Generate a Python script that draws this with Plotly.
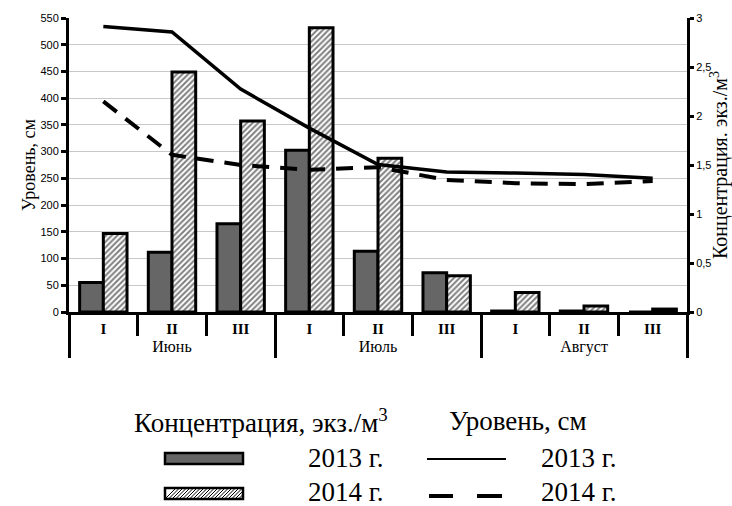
import plotly.graph_objects as go

months = ["Июнь"] * 3 + ["Июль"] * 3 + ["Август"] * 3
decades = ["I", "II", "III"] * 3
conc_2013 = [0.30, 0.61, 0.90, 1.65, 0.62, 0.40, 0.01, 0.01, 0.0]
conc_2014 = [0.80, 2.45, 1.95, 2.90, 1.57, 0.37, 0.20, 0.06, 0.03]
level_2013 = [534, 524, 417, 344, 276, 262, 260, 257, 250]
level_2014 = [394, 294, 275, 266, 271, 247, 241, 239, 245]
level_ticks = list(range(0, 551, 50))
conc_ticks = [0, 0.5, 1, 1.5, 2, 2.5, 3]

W, H = 732, 506
ML, MR, MT, MB = 69, 45, 18, 194
PW, PH = W - ML - MR, H - MT - MB


def px(x):
    return (x - ML) / PW


def py(y):
    return (H - MB - y) / PH


inner = [f"<span style='font-size:15px'><b>{d}</b></span>" for d in decades]
x_cat = [months, inner]

serif = "Liberation Serif, Times New Roman, serif"
sans = "Liberation Sans, Arial, sans-serif"

fig = go.Figure()
fig.add_trace(go.Bar(
    x=x_cat, y=conc_2013, name="2013 г.", yaxis="y",
    marker=dict(color="#666666", line=dict(color="black", width=3)),
    showlegend=False,
))
fig.add_trace(go.Bar(
    x=x_cat, y=conc_2014, name="2014 г.", yaxis="y",
    marker=dict(color="white", line=dict(color="black", width=3),
                pattern=dict(shape="/", fgcolor="black", bgcolor="white",
                             size=4, solidity=0.5)),
    showlegend=False,
))
fig.add_trace(go.Scatter(
    x=x_cat, y=level_2013, yaxis="y2", mode="lines",
    line=dict(color="black", width=3.5), showlegend=False,
))
fig.add_trace(go.Scatter(
    x=x_cat, y=level_2014, yaxis="y2", mode="lines",
    line=dict(color="black", width=4, dash="17px,11px"), showlegend=False,
))

fig.update_layout(
    width=W, height=H,
    margin=dict(l=ML, r=MR, t=MT, b=MB),
    paper_bgcolor="white", plot_bgcolor="white",
    separators=", ",
    bargap=0.31, bargroupgap=0,
    xaxis=dict(
        type="multicategory", automargin=False,
        showline=True, linecolor="black", linewidth=3,
        ticks="outside", ticklen=21, tickwidth=3, tickcolor="black",
        showdividers=True, dividercolor="black", dividerwidth=3,
        tickfont=dict(family=serif, size=16, color="black"),
        showgrid=False,
    ),
    yaxis=dict(
        side="right", range=[0, 3], tickvals=conc_ticks, automargin=False,
        ticks="outside", ticklen=4, tickwidth=3, tickcolor="black",
        showline=True, linecolor="black", linewidth=3,
        showgrid=False, zeroline=False,
        tickfont=dict(family=sans, size=11, color="black"),
        title=dict(text="Концентрация. экз./м<sup>3</sup>",
                   font=dict(family=serif, size=20, color="black"), standoff=6),
    ),
    yaxis2=dict(
        overlaying="y", side="left", range=[0, 550], tickvals=level_ticks,
        automargin=False,
        ticks="outside", ticklen=5, tickwidth=3, tickcolor="black",
        showline=True, linecolor="black", linewidth=3,
        showgrid=True, gridcolor="#c8c8c8", gridwidth=1, zeroline=False,
        tickfont=dict(family=sans, size=11, color="black"),
        title=dict(text="Уровень, см",
                   font=dict(family=serif, size=18, color="black"), standoff=1),
    ),
)

# Custom legend in the bottom margin
lg_font = dict(family=serif, size=27, color="black")
annots = [
    dict(text="Концентрация, экз./м<sup>3</sup>", x=px(261), y=py(421)),
    dict(text="Уровень, см", x=px(518), y=py(421)),
    dict(text="2013 г.", x=px(307), y=py(458), xanchor="left"),
    dict(text="2014 г.", x=px(307), y=py(492), xanchor="left"),
    dict(text="2013 г.", x=px(540), y=py(458), xanchor="left"),
    dict(text="2014 г.", x=px(540), y=py(492), xanchor="left"),
]
for a in annots:
    fig.add_annotation(xref="paper", yref="paper", showarrow=False,
                       xanchor=a.get("xanchor", "center"), yanchor="middle",
                       borderpad=0,
                       font=lg_font, text=a["text"], x=a["x"], y=a["y"])

shapes = [
    dict(type="rect", x0=px(165), x1=px(243), y0=py(453), y1=py(464),
         fillcolor="#666666", line=dict(color="black", width=2.5)),
    dict(type="rect", x0=px(165), x1=px(243), y0=py(488), y1=py(499),
         fillcolor="white", line=dict(color="black", width=2.5)),
    dict(type="line", x0=px(427), x1=px(506), y0=py(459), y1=py(459),
         line=dict(color="black", width=2)),
    dict(type="line", x0=px(429), x1=px(453), y0=py(496), y1=py(496),
         line=dict(color="black", width=4)),
    dict(type="line", x0=px(477), x1=px(502), y0=py(496), y1=py(496),
         line=dict(color="black", width=4)),
]
# hatch lines inside legend swatch
path = ""
x = 165
while x < 243:
    xa, ya = x, 499
    xb, yb = x + 11, 488
    if xb > 243:
        yb = 499 - (243 - x)
        xb = 243
    path += f"M {px(xa)} {py(ya)} L {px(xb)} {py(yb)} "
    x += 3.5
shapes.append(dict(type="path", path=path, line=dict(color="black", width=1)))
for s in shapes:
    fig.add_shape(xref="paper", yref="paper", layer="above", **s)

fig.write_html(
    "out.html",
    config={"displayModeBar": False},
    post_script="document.body.style.margin='0';document.body.style.overflow='hidden';",
)
